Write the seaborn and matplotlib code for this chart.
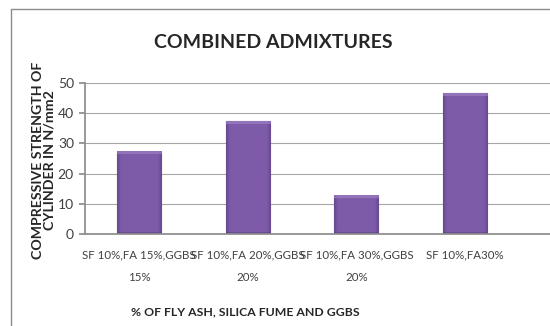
import numpy as np
import pandas as pd
import seaborn as sns
import matplotlib.pyplot as plt
from matplotlib.lines import Line2D
from matplotlib.colors import to_rgb

# data
mixes = ["SF 10%,FA 15%,GGBS\n15%", "SF 10%,FA 20%,GGBS\n20%",
         "SF 10%,FA 30%,GGBS\n20%", "SF 10%,FA30%"]
strength = [27.3, 37.4, 12.6, 46.6]
yticks = [0, 10, 20, 30, 40, 50]

df = pd.DataFrame({"mix": mixes, "strength": strength})

sns.set_theme(style="white")
plt.rcParams['font.family'] = ['Lato', 'DejaVu Sans']

W, H = 550, 326
fig = plt.figure(figsize=(W / 100, H / 100), dpi=100)
ax = fig.add_axes([85 / W, 1 - 234 / H, (W - 85) / W, 151 / H])

sns.barplot(data=df, x="mix", y="strength", ax=ax, color="#7d5ba6",
            saturation=1, width=0.405, edgecolor="#5e4386", linewidth=0.8)

# office-style bevel shading on each bar
mid = np.array(to_rgb("#7e5ba9"))
dark = np.array(to_rgb("#5a3f82"))
light = np.array(to_rgb("#a286c8"))
for p in ax.patches:
    x0, y0, w, h = p.get_x(), p.get_y(), p.get_width(), p.get_height()
    hpx = max(int(h / 50 * 151), 4)
    nx, ny = 44, hpx
    img = np.tile(mid, (ny, nx, 1))
    xs = np.linspace(0, 1, nx)
    edge = np.clip(1 - np.minimum(xs, 1 - xs) / 0.08, 0, 1)
    img = img * (1 - 0.6 * edge[None, :, None]) + dark * (0.6 * edge[None, :, None])
    img[:3] = img[:3] * 0.4 + light * 0.6
    img[-2:] = img[-2:] * 0.5 + dark * 0.5
    ax.imshow(img, extent=[x0, x0 + w, y0, y0 + h], aspect="auto",
              origin="upper", zorder=p.get_zorder() + 0.1, clip_path=p,
              interpolation="bilinear")

ax.set_xlim(-0.497, 3.78)
ax.set_ylim(0, 50)
ax.set_yticks(yticks)
ax.yaxis.grid(True, color="#a6a6a6", linewidth=0.8)
ax.set_axisbelow(True)
for s in ["top", "right"]:
    ax.spines[s].set_visible(False)
ax.spines["left"].set_color("#8c8c8c")
ax.spines["bottom"].set_color("#8c8c8c")
ax.tick_params(axis="y", left=True, length=4, color="#8c8c8c", labelsize=10, pad=4)
ax.tick_params(axis="x", bottom=False, labelsize=8.3, pad=5)
for t in ax.get_xticklabels():
    t.set_linespacing(2.25)
    t.set_va("top")
for t in ax.get_xticklabels() + ax.get_yticklabels():
    t.set_color("#404040")

ax.set_xlabel("% OF FLY ASH, SILICA FUME AND GGBS", fontsize=8.8, fontweight="bold")
ax.xaxis.set_label_coords((245 - 85) / (W - 85), -(306 - 234) / 151)
ax.set_ylabel("COMPRESSIVE STRENGTH OF\nCYLINDER IN N/mm2", fontsize=10.2,
              fontweight="bold", linespacing=1.0)
ax.yaxis.set_label_coords(-(85 - 56) / (W - 85), (234 - 160) / 151)

fig.text(273 / W, 1 - 43 / H, "COMBINED ADMIXTURES", ha="center", va="center",
         fontsize=14, fontweight="bold")

# chart frame
fig.add_artist(Line2D([11 / W, 11 / W], [0, 1 - 9 / H], color="#8c8c8c", linewidth=1))
fig.add_artist(Line2D([11 / W, 1], [1 - 9 / H, 1 - 9 / H], color="#8c8c8c", linewidth=1))

fig.savefig("out.png", dpi=100)
